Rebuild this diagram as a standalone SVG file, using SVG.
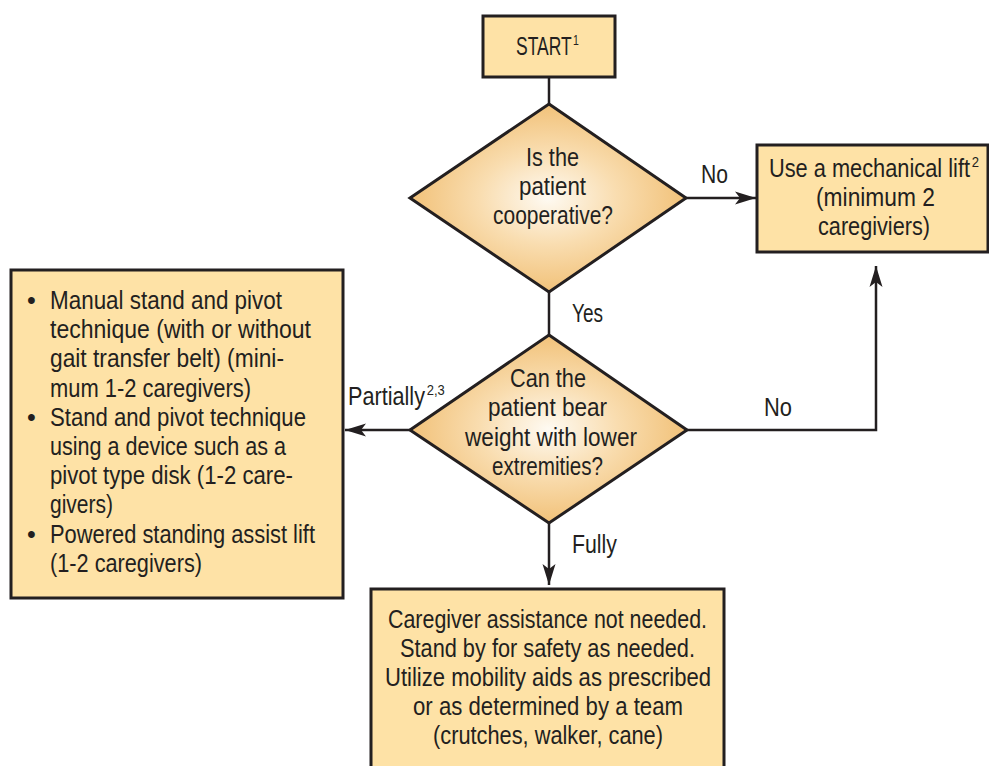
<svg xmlns="http://www.w3.org/2000/svg" width="989" height="766" viewBox="0 0 989 766">
<style>
.box{fill:#FEE2A6;stroke:#231F20;stroke-width:3}
.dia{fill:url(#dg);stroke:#231F20;stroke-width:3;stroke-linejoin:miter}
.t{font-family:"Liberation Sans",Arial,sans-serif;font-size:25px;fill:#231F20}
.c{fill:none;stroke:#231F20;stroke-width:2.5}
</style>
<defs>
<radialGradient id="dg" cx="0.5" cy="0.5" r="0.55">
<stop offset="0" stop-color="#FEFAF2"/>
<stop offset="0.45" stop-color="#F9DDB0"/>
<stop offset="1" stop-color="#F0BC6E"/>
</radialGradient>
<marker id="ah" markerUnits="userSpaceOnUse" markerWidth="24" markerHeight="16" viewBox="0 -8 24 16" refX="21" refY="0" orient="auto">
<path d="M0,-6.5 L21,0 L0,6.5 L5,0 Z" fill="#231F20"/>
</marker>
</defs>
<rect width="989" height="766" fill="#fff"/>
<g id="connectors">
<line class="c" x1="549" y1="77" x2="549" y2="105"/>
<line class="c" x1="686" y1="198" x2="756" y2="198" marker-end="url(#ah)"/>
<line class="c" x1="549" y1="292" x2="549" y2="336"/>
<line class="c" x1="410" y1="430" x2="345" y2="430" marker-end="url(#ah)"/>
<polyline class="c" points="687,430 876,430 876,266" marker-end="url(#ah)"/>
<line class="c" x1="549" y1="523" x2="549" y2="585" marker-end="url(#ah)"/>
<text class="t" x="701" y="183" textLength="27" lengthAdjust="spacingAndGlyphs">No</text>
<text class="t" x="572" y="322" textLength="31" lengthAdjust="spacingAndGlyphs">Yes</text>
<text class="t" x="764" y="416" textLength="28" lengthAdjust="spacingAndGlyphs">No</text>
<text class="t" x="572" y="553" textLength="45" lengthAdjust="spacingAndGlyphs">Fully</text>
<text class="t" transform="translate(348,405) scale(0.866,1)">Partially<tspan font-size="15" dx="2" dy="-10">2,3</tspan></text>
</g>
<g id="start">
<rect class="box" x="483" y="16" width="132" height="61"/>
<text class="t" transform="translate(516,55) scale(0.7,1)">START<tspan font-size="15" dx="2" dy="-10">1</tspan></text>
</g>
<g id="q1">
<polygon class="dia" points="549,104 686,198 549,292 410,198"/>
<text class="t" x="526" y="166" textLength="53" lengthAdjust="spacingAndGlyphs">Is the</text>
<text class="t" x="519" y="195" textLength="67" lengthAdjust="spacingAndGlyphs">patient</text>
<text class="t" x="493" y="224" textLength="120" lengthAdjust="spacingAndGlyphs">cooperative?</text>
</g>
<g id="mechlift">
<rect class="box" x="757" y="145" width="231" height="107"/>
<text class="t" transform="translate(769,177) scale(0.872,1)">Use a mechanical lift<tspan font-size="15" dx="2" dy="-10">2</tspan></text>
<text class="t" x="816" y="206" textLength="119" lengthAdjust="spacingAndGlyphs">(minimum 2</text>
<text class="t" x="818" y="235" textLength="112" lengthAdjust="spacingAndGlyphs">caregiviers)</text>
</g>
<g id="q2">
<polygon class="dia" points="549,335 687,430 549,523 410,430"/>
<text class="t" x="510" y="387" textLength="76" lengthAdjust="spacingAndGlyphs">Can the</text>
<text class="t" x="488" y="416" textLength="119" lengthAdjust="spacingAndGlyphs">patient bear</text>
<text class="t" x="465" y="446" textLength="172" lengthAdjust="spacingAndGlyphs">weight with lower</text>
<text class="t" x="492" y="475" textLength="111" lengthAdjust="spacingAndGlyphs">extremities?</text>
</g>
<g id="partial">
<rect class="box" x="11" y="270" width="332" height="328"/>
<text class="t" x="27" y="309">•</text>
<text class="t" x="27" y="425.8">•</text>
<text class="t" x="27" y="542.6">•</text>
<text class="t" x="50" y="309" textLength="232" lengthAdjust="spacingAndGlyphs">Manual stand and pivot</text>
<text class="t" x="50" y="338.2" textLength="261" lengthAdjust="spacingAndGlyphs">technique (with or without</text>
<text class="t" x="50" y="367.4" textLength="234" lengthAdjust="spacingAndGlyphs">gait transfer belt) (mini-</text>
<text class="t" x="50" y="396.6" textLength="201" lengthAdjust="spacingAndGlyphs">mum 1-2 caregivers)</text>
<text class="t" x="50" y="425.8" textLength="256" lengthAdjust="spacingAndGlyphs">Stand and pivot technique</text>
<text class="t" x="50" y="455" textLength="236" lengthAdjust="spacingAndGlyphs">using a device such as a</text>
<text class="t" x="50" y="484.2" textLength="243" lengthAdjust="spacingAndGlyphs">pivot type disk (1-2 care-</text>
<text class="t" x="50" y="513.4" textLength="63" lengthAdjust="spacingAndGlyphs">givers)</text>
<text class="t" x="50" y="542.6" textLength="265" lengthAdjust="spacingAndGlyphs">Powered standing assist lift</text>
<text class="t" x="50" y="571.8" textLength="152" lengthAdjust="spacingAndGlyphs">(1-2 caregivers)</text>
</g>
<g id="full">
<rect class="box" x="371" y="589" width="353" height="190"/>
<text class="t" x="388" y="628" textLength="319" lengthAdjust="spacingAndGlyphs">Caregiver assistance not needed.</text>
<text class="t" x="400" y="657" textLength="295" lengthAdjust="spacingAndGlyphs">Stand by for safety as needed.</text>
<text class="t" x="385" y="686" textLength="326" lengthAdjust="spacingAndGlyphs">Utilize mobility aids as prescribed</text>
<text class="t" x="413" y="715" textLength="270" lengthAdjust="spacingAndGlyphs">or as determined by a team</text>
<text class="t" x="433" y="744" textLength="230" lengthAdjust="spacingAndGlyphs">(crutches, walker, cane)</text>
</g>
</svg>
